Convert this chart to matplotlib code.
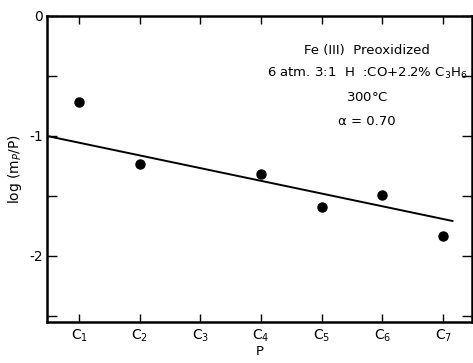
import matplotlib
matplotlib.use("Agg")
import matplotlib.pyplot as plt
from matplotlib.ticker import MultipleLocator

# Carbon number positions and tick labels
carbon_pos = [1, 2, 3, 4, 5, 6, 7]
carbon_labels = ["C$_1$", "C$_2$", "C$_3$", "C$_4$", "C$_5$", "C$_6$", "C$_7$"]

# Measured points: log(m_P / P)
point_x = [1, 2, 4, 5, 6, 7]
point_y = [-0.72, -1.23, -1.32, -1.59, -1.49, -1.83]

# Fitted straight line (end points)
fit_x = [0.47, 7.17]
fit_y = [-1.00, -1.71]

y_major = [0, -1, -2]
y_major_labels = ["0", "-1", "-2"]

fig = plt.figure(figsize=(4.73, 3.63), dpi=100)
ax = fig.add_axes([0.0994, 0.113, 0.899, 0.843])

ax.plot(fit_x, fit_y, color="black", lw=1.4, solid_capstyle="butt")
ax.plot(point_x, point_y, "o", color="black", ms=6.5)

ax.set_xlim(0.47, 7.48)
ax.set_ylim(-2.55, 0)

ax.set_xticks(carbon_pos)
ax.set_xticklabels(carbon_labels, fontsize=10)
ax.set_yticks(y_major)
ax.set_yticklabels(y_major_labels, fontsize=10)
ax.yaxis.set_minor_locator(MultipleLocator(0.5))

ax.tick_params(axis="both", which="both", direction="in", top=True, right=True,
               width=1.0, color="black")
ax.tick_params(axis="x", which="major", length=6, pad=4)
ax.tick_params(axis="y", which="major", length=7, pad=3)
ax.tick_params(axis="y", which="minor", length=7)
ax.tick_params(axis="x", which="minor", top=False, bottom=False)

for s in ax.spines.values():
    s.set_linewidth(1.8)

ax.set_xlabel("P", fontsize=9.5, labelpad=1)
ax.set_ylabel("log (m$_P$/P)", fontsize=10, labelpad=4)

tx = 5.75
ax.text(tx, -0.29, "Fe (III)  Preoxidized", ha="center", va="center", fontsize=9.5)
ax.text(tx, -0.48, "6 atm. 3:1  H  :CO+2.2% C$_3$H$_6$", ha="center", va="center", fontsize=9.5)
ax.text(tx, -0.68, "300$\\degree$C", ha="center", va="center", fontsize=9.5)
ax.text(tx, -0.88, "\u03b1 = 0.70", ha="center", va="center", fontsize=9.5)

fig.savefig("out.png", dpi=100)
